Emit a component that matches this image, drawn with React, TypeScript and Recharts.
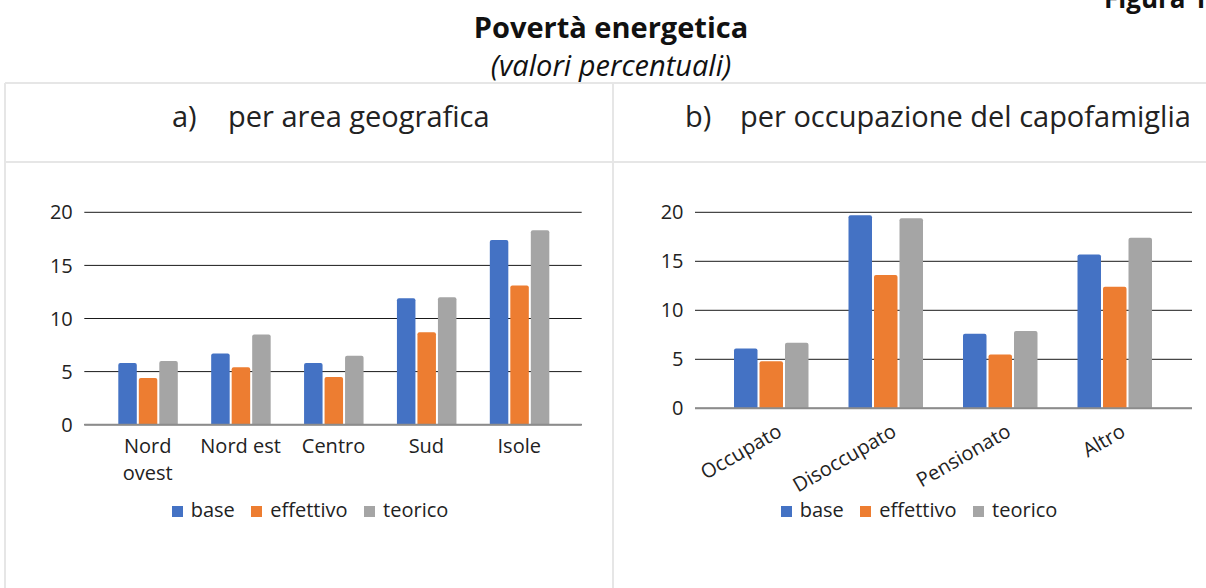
import { BarChart, Bar, XAxis, YAxis, CartesianGrid, Legend } from 'recharts';

// --- data ---
const AREE = ['Nord ovest', 'Nord est', 'Centro', 'Sud', 'Isole'];
const AREE_BASE = [5.8, 6.7, 5.8, 11.9, 17.4];
const AREE_EFFETTIVO = [4.4, 5.4, 4.5, 8.7, 13.1];
const AREE_TEORICO = [6.0, 8.5, 6.5, 12.0, 18.3];

const OCCUPAZIONI = ['Occupato', 'Disoccupato', 'Pensionato', 'Altro'];
const OCC_BASE = [6.1, 19.7, 7.6, 15.7];
const OCC_EFFETTIVO = [4.8, 13.6, 5.5, 12.4];
const OCC_TEORICO = [6.7, 19.4, 7.9, 17.4];

const Y_TICKS = [0, 5, 10, 15, 20];

const SERIES = [
  { key: 'base', color: '#4472C4' },
  { key: 'effettivo', color: '#ED7D31' },
  { key: 'teorico', color: '#A5A5A5' }
];

const FONT = '"Open Sans", "Noto Sans", sans-serif';
const TEXT = '#222';
const LINE = '#e6e6e6';

const areaData = AREE.map((name, i) => ({
  name,
  base: AREE_BASE[i],
  effettivo: AREE_EFFETTIVO[i],
  teorico: AREE_TEORICO[i]
}));

const occData = OCCUPAZIONI.map((name, i) => ({
  name,
  base: OCC_BASE[i],
  effettivo: OCC_EFFETTIVO[i],
  teorico: OCC_TEORICO[i]
}));

// legend: small squares + names
const renderLegend = ({ payload }: any) => (
  <div style={{
    display: 'flex', justifyContent: 'center', alignItems: 'center',
    height: 24, lineHeight: '24px', fontFamily: FONT, fontSize: 20, color: TEXT
  }}>
    {(payload || []).map((p: any, i: number) => (
      <span key={p.value} style={{ display: 'flex', alignItems: 'center', marginRight: i < payload.length - 1 ? 16.5 : 0 }}>
        <span style={{ width: 11, height: 11, background: p.color, marginRight: 8, position: 'relative', top: 2 }} />
        <span>{p.value}</span>
      </span>
    ))}
  </div>
);

// long labels wrap on two lines (Nord / ovest)
const AreaTick = ({ x, y, payload }: any) => {
  const lines = payload.value.length > 9 ? payload.value.split(' ') : [payload.value];
  return (
    <text x={x} y={y + 28} textAnchor="middle" fontFamily={FONT} fontSize={20} fill={TEXT}>
      {lines.map((w: string, i: number) => (
        <tspan key={i} x={x} dy={i === 0 ? 0 : 27}>{w}</tspan>
      ))}
    </text>
  );
};

const OccTick = ({ x, y, payload }: any) => {
  const ax = x + 12;
  const ay = y + 27;
  return (
    <text x={ax} y={ay} textAnchor="end" transform={`rotate(-30, ${ax}, ${ay})`}
      fontFamily={FONT} fontSize={20} fill={TEXT}>
      {payload.value}
    </text>
  );
};

const yTick = { fontFamily: FONT, fontSize: 20, fill: TEXT };

function Panel({ data, left, yWidth, marginRight, padding, xHeight, marginBottom, barSize, tick, legendLeft }: any) {
  return (
    <div style={{ position: 'absolute', left, top: 190, width: 612, height: 350 }}>
      <BarChart
        width={612}
        height={350}
        data={data}
        barGap={2}
        margin={{ top: 22.3, right: marginRight, bottom: marginBottom, left: 0 }}
      >
        <CartesianGrid vertical={false} stroke="#1a1a1a" />
        <YAxis
          domain={[0, 20]}
          ticks={Y_TICKS}
          width={yWidth}
          axisLine={false}
          tickLine={false}
          tickSize={0}
          tickMargin={11.5}
          tick={yTick}
        />
        <XAxis
          dataKey="name"
          interval={0}
          height={xHeight}
          padding={padding}
          axisLine={{ stroke: '#8c8c8c', strokeWidth: 2 }}
          tickLine={false}
          tickSize={0}
          tickMargin={0}
          tick={tick}
        />
        <Legend
          layout="horizontal"
          verticalAlign="middle"
          align="center"
          content={renderLegend}
          wrapperStyle={{ top: 307.5, left: legendLeft, width: 612 }}
        />
        {SERIES.map(s => (
          <Bar
            key={s.key}
            dataKey={s.key}
            name={s.key}
            fill={s.color}
            barSize={barSize}
            radius={[2, 2, 0, 0]}
            isAnimationActive={false}
          />
        ))}
      </BarChart>
    </div>
  );
}

export default function App() {
  return (
    <div style={{ position: 'absolute', left: 0, top: 0, width: 1206, height: 588, background: '#fff', overflow: 'hidden' }}>
      <svg width={1206} height={588} style={{ position: 'absolute', left: 0, top: 0 }}>
        <text x={1104} y={8} fontFamily={FONT} fontWeight={700} fontSize={26} fill="#111">Figura 1</text>
        <text x={611} y={38} textAnchor="middle" fontFamily={FONT} fontWeight={700} fontSize={29} fill="#111">
          Povertà energetica
        </text>
        <text x={611} y={76} textAnchor="middle" fontFamily={FONT} fontStyle="italic" fontSize={29} fill="#111">
          (valori percentuali)
        </text>
        {/* table frame */}
        <line x1={5} y1={83} x2={1206} y2={83} stroke={LINE} strokeWidth={2} />
        <line x1={5} y1={162} x2={1206} y2={162} stroke={LINE} strokeWidth={2} />
        <line x1={5} y1={83} x2={5} y2={588} stroke={LINE} strokeWidth={2} />
        <line x1={613} y1={83} x2={613} y2={588} stroke={LINE} strokeWidth={2} />
        <text x={172} y={127} fontFamily={FONT} fontSize={29} fill={TEXT}>a)</text>
        <text x={228} y={127} fontFamily={FONT} fontSize={29} fill={TEXT}>per area geografica</text>
        <text x={685} y={127} fontFamily={FONT} fontSize={29} fill={TEXT}>b)</text>
        <text x={740} y={127} fontFamily={FONT} fontSize={29} fill={TEXT}>per occupazione del capofamiglia</text>
      </svg>
      <Panel
        data={areaData}
        left={0}
        yWidth={84.3}
        marginRight={30.3}
        padding={{ left: 17, right: 16 }}
        xHeight={60}
        marginBottom={55.3}
        barSize={18.5}
        tick={<AreaTick />}
        legendLeft={4}
      />
      <Panel
        data={occData}
        left={613}
        yWidth={82}
        marginRight={33}
        padding={{ left: 19, right: 20 }}
        xHeight={80}
        marginBottom={51.7}
        barSize={23.5}
        tick={<OccTick />}
        legendLeft={0}
      />
    </div>
  );
}
